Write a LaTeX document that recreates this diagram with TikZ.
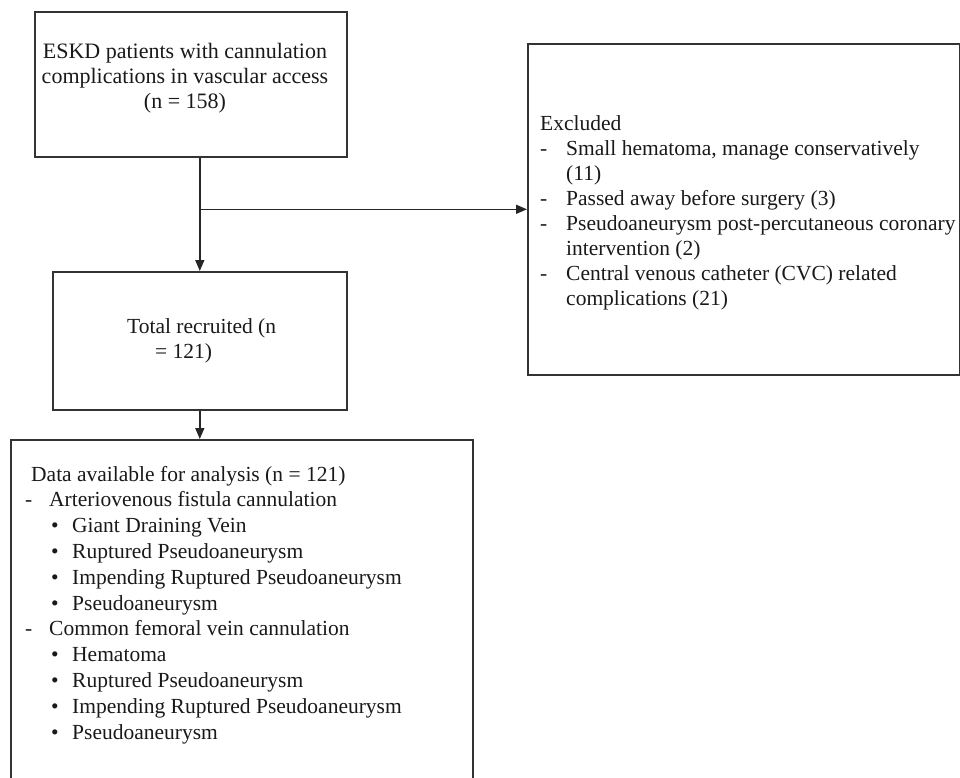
\documentclass[tikz,border=0pt]{standalone}
\usepackage{fontspec}
\setmainfont{Liberation Serif}
\usetikzlibrary{arrows.meta,positioning}

\begin{document}
\begin{tikzpicture}[x=1pt, y=-1pt, font=\fontsize{21.5}{25}\selectfont,
  frame/.style={draw=black!80, line width=1.6pt, anchor=north west, inner sep=0pt},
  txt/.style={inner sep=0pt, text=black!90},
  flow/.style={draw=black!85, line width=1.5pt, -{Triangle[length=11pt, width=9pt]}}]
  \clip (0,0) rectangle (960,777);
  \node[frame, minimum width=312pt, minimum height=145pt] (eskd) at (34,11) {};
  \node[frame, minimum width=294pt, minimum height=138pt] (recruit) at (52,271) {};
  \node[frame, minimum width=432pt, minimum height=331pt] (excl) at (527,43) {};
  \node[frame, minimum width=462pt, minimum height=361pt] (data) at (10,439) {};
  \node[txt, align=center, anchor=north, font=\fontsize{22}{25}\selectfont] (eskdtxt) at (185,43) {ESKD patients with cannulation\\complications in vascular access\\(n = 158)};
  \node[txt, align=left, anchor=north west] (recruittxt) at (127,318.5) {Total recruited (n\\\hspace*{28pt}= 121)};
  \node[txt, align=left, anchor=north west] (excltxt) at (540,115.5) {Excluded\\
    \makebox[26pt][l]{-}Small hematoma, manage conservatively\\
    \hspace*{26pt}(11)\\
    \makebox[26pt][l]{-}Passed away before surgery (3)\\
    \makebox[26pt][l]{-}Pseudoaneurysm post-percutaneous coronary\\
    \hspace*{26pt}intervention (2)\\
    \makebox[26pt][l]{-}Central venous catheter (CVC) related\\
    \hspace*{26pt}complications (21)};
  \node[txt, align=left, anchor=north west] (datatxt) at (25,466) {\hspace*{6pt}Data available for analysis (n = 121)\\
    \makebox[24pt][l]{-}Arteriovenous fistula cannulation\\[1pt]
    \hspace*{26pt}\makebox[21pt][l]{\textbullet}Giant Draining Vein\\[1pt]
    \hspace*{26pt}\makebox[21pt][l]{\textbullet}Ruptured Pseudoaneurysm\\[1pt]
    \hspace*{26pt}\makebox[21pt][l]{\textbullet}Impending Ruptured Pseudoaneurysm\\[1pt]
    \hspace*{26pt}\makebox[21pt][l]{\textbullet}Pseudoaneurysm\\
    \makebox[24pt][l]{-}Common femoral vein cannulation\\[1pt]
    \hspace*{26pt}\makebox[21pt][l]{\textbullet}Hematoma\\[1pt]
    \hspace*{26pt}\makebox[21pt][l]{\textbullet}Ruptured Pseudoaneurysm\\[1pt]
    \hspace*{26pt}\makebox[21pt][l]{\textbullet}Impending Ruptured Pseudoaneurysm\\[1pt]
    \hspace*{26pt}\makebox[21pt][l]{\textbullet}Pseudoaneurysm};
  \draw[flow] (eskd.south -| recruit.north) -- (recruit.north);
  \draw[flow] (excl.west -| recruit.north) -- (excl.west);
  \draw[flow] (recruit.south) -- (recruit.south |- data.north);
\end{tikzpicture}
\end{document}
